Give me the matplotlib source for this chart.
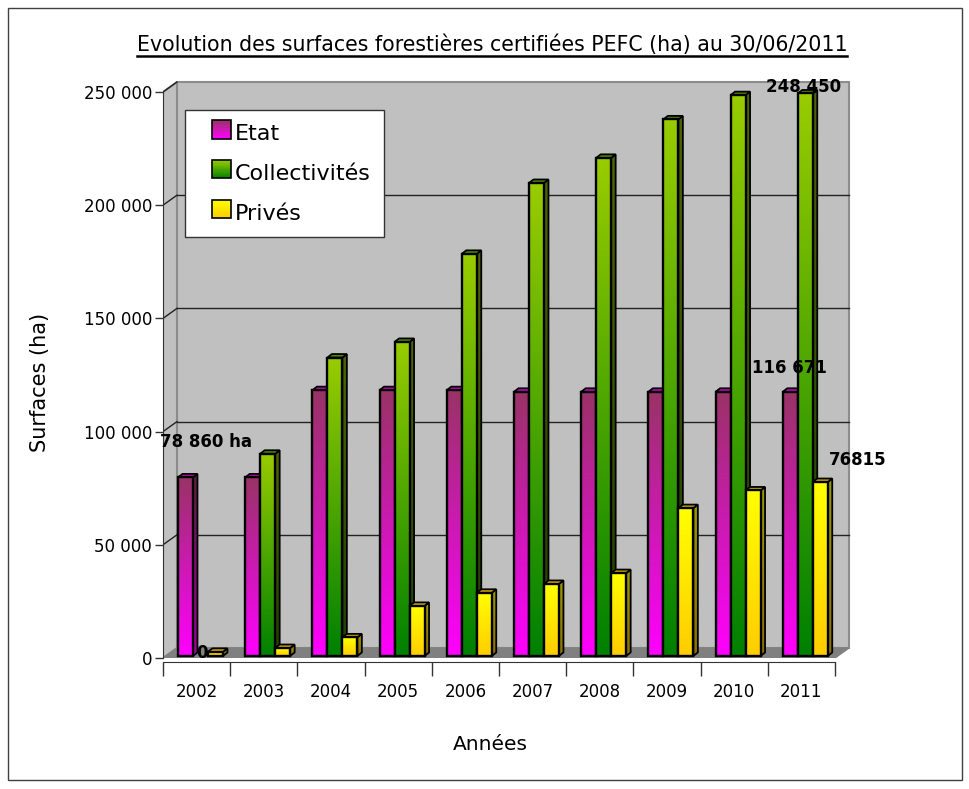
import numpy as np
import matplotlib
matplotlib.use('Agg')
import matplotlib.pyplot as plt
from matplotlib.patches import Polygon, Rectangle, Patch
from matplotlib.lines import Line2D
from matplotlib.colors import to_rgb

# ---------------- data ----------------
years = ['2002', '2003', '2004', '2005', '2006', '2007', '2008', '2009', '2010', '2011']
etat = [78860, 78860, 117400, 117400, 117400, 116671, 116671, 116671, 116671, 116671]
collectivites = [0, 89300, 131800, 138700, 177600, 208900, 220000, 237000, 247700, 248450]
prives = [1800, 3500, 8200, 22100, 27900, 31800, 36600, 65300, 73100, 76815]
series_names = ['Etat', 'Collectivités', 'Privés']
yticks = [0, 50000, 100000, 150000, 200000, 250000]
ytick_labels = ['0', '50 000', '100 000', '150 000', '200 000', '250 000']
title = "Evolution des surfaces forestières certifiées PEFC (ha) au 30/06/2011"
xlabel = "Années"
ylabel = "Surfaces (ha)"
# data labels: (text, x in categories, y in value units, ha)
data_labels = [
    ("78 860 ha", -0.045, 95400, 'left'),
    ("0", 0.58, 2200, 'center'),
    ("116 671", 8.765, 128100, 'left'),
    ("248 450", 8.97, 252200, 'left'),
    ("76815", 9.91, 87500, 'left'),
]

# ---------------- geometry / style ----------------
W, H = 969, 789
PX_PER_CAT = 67.2
PX_PER_UNIT = 2.264 / 1000
X0_PX, Y0_PX = 163, 658
XMAX, YMAX = 10.3, 260000
ax_w = XMAX * PX_PER_CAT
ax_h = YMAX * PX_PER_UNIT

DX, DY = 0.208, 4417          # wall depth
BAR_OFF, BAR_W = 0.223, 0.223
BASE = 900
DDX, DDY = 0.067, 1550        # bar depth

styles = [
    dict(front=('#FF00FF', '#993366'), side=('#A000A0', '#5C1F3D'), top='#CC00CC'),
    dict(front=('#008000', '#99CC00'), side=('#1F4000', '#4D6600'), top='#4C8C00'),
    dict(front=('#FFCC00', '#FFFF00'), side=('#8C7000', '#999900'), top='#D4AA00'),
]


def grad(c_bot, c_top, n=128):
    b = np.array(to_rgb(c_bot))
    t = np.array(to_rgb(c_top))
    f = np.linspace(0, 1, n)[:, None]
    return (b * (1 - f) + t * f)[:, None, :]


fig = plt.figure(figsize=(W / 100, H / 100), dpi=100)
ax = fig.add_axes([X0_PX / W, 1 - Y0_PX / H, ax_w / W, ax_h / H])
ax.set_xlim(0, XMAX)
ax.set_ylim(0, YMAX)
ax.set_autoscale_on(False)
ax.patch.set_visible(False)

TOP = yticks[-1]
NC = len(years)
wall_c = '#C0C0C0'
edge_c = '#8C8C8C'

# back wall
ax.add_patch(Polygon([(DX, DY), (NC + DX, DY), (NC + DX, TOP + DY), (DX, TOP + DY)],
                     closed=True, fc=wall_c, ec=edge_c, lw=1.5, zorder=0.5))
# side wall
ax.add_patch(Polygon([(0, 0), (DX, DY), (DX, TOP + DY), (0, TOP)],
                     closed=True, fc=wall_c, ec=edge_c, lw=1.5, zorder=0.5))
# gridlines
for v in yticks[1:-1]:
    ax.add_line(Line2D([DX, NC + DX], [v + DY, v + DY], color='#222222', lw=1.0, zorder=0.8))
for v in yticks[1:]:
    ax.add_line(Line2D([0, DX], [v, v + DY], color='#222222', lw=1.0, zorder=0.8))
# floor
ax.add_patch(Polygon([(0, 0), (NC, 0), (NC + DX, DY), (DX, DY)],
                     closed=True, fc='#808080', ec='#808080', lw=1, zorder=0.9))

# bars
series = [etat, collectivites, prives]
for i in range(NC):
    for k, vals in enumerate(series):
        h = vals[i]
        if h <= 0:
            continue
        st = styles[k]
        z = 2 + (i * 3 + k) * 0.01
        x0 = i + BAR_OFF + k * BAR_W
        x1 = x0 + BAR_W
        y0 = BASE
        y1 = BASE + h
        side = [(x1, y0), (x1 + DDX, y0 + DDY), (x1 + DDX, y1 + DDY), (x1, y1)]
        topf = [(x0, y1), (x1, y1), (x1 + DDX, y1 + DDY), (x0 + DDX, y1 + DDY)]
        im = ax.imshow(grad(*st['side']), extent=(x1, x1 + DDX, y0, y1 + DDY),
                       origin='lower', aspect='auto', interpolation='bilinear', zorder=z)
        im.set_clip_path(Polygon(side, closed=True, transform=ax.transData))
        ax.add_patch(Polygon(side, closed=True, fc='none', ec='black', lw=1.3, zorder=z + 0.001))
        ax.add_patch(Polygon(topf, closed=True, fc=st['top'], ec='black', lw=1.3, zorder=z + 0.002))
        ax.imshow(grad(*st['front']), extent=(x0, x1, y0, y1),
                  origin='lower', aspect='auto', interpolation='bilinear', zorder=z + 0.003)
        ax.add_patch(Rectangle((x0, y0), BAR_W, h, fc='none', ec='black', lw=1.7, zorder=z + 0.004))

ax.set_xlim(0, XMAX)
ax.set_ylim(0, YMAX)

# axes / ticks
for s in ['top', 'right']:
    ax.spines[s].set_visible(False)
ax.spines['left'].set_bounds(0, TOP)
ax.spines['left'].set_color('#333333')
ax.spines['bottom'].set_bounds(0, NC)
ax.spines['bottom'].set_position(('outward', 2.9))
ax.spines['bottom'].set_color('#333333')
ax.set_yticks(yticks)
ax.set_yticklabels(ytick_labels, fontsize=12)
ax.tick_params(axis='y', direction='out', length=5.8, width=1, color='#333333', pad=2)
ax.set_xticks(np.arange(NC + 1))
ax.set_xticklabels([])
ax.tick_params(axis='x', which='major', direction='out', length=10, width=1, color='#333333')
ax.set_xticks(np.arange(NC) + 0.5, minor=True)
ax.set_xticklabels(years, minor=True, fontsize=12)
ax.tick_params(axis='x', which='minor', length=0, pad=15)

ax.set_ylabel(ylabel, fontsize=15)
ax.yaxis.set_label_coords((40 - X0_PX) / ax_w, (Y0_PX - 382) / ax_h)
ax.yaxis.label.set_va('center')
ax.set_xlabel(xlabel, fontsize=14.5)
ax.xaxis.set_label_coords((490 - X0_PX) / ax_w, (Y0_PX - 745) / ax_h)
ax.xaxis.label.set_va('center')

for txt, x, y, ha in data_labels:
    ax.text(x, y, txt, ha=ha, va='center', fontsize=12, fontweight='bold', zorder=10)


# legend with gradient squares
class GradHandler:
    def __init__(self, c_bot, c_top):
        self.c_bot = np.array(to_rgb(c_bot))
        self.c_top = np.array(to_rgb(c_top))

    def legend_artist(self, legend, orig_handle, fontsize, handlebox):
        x0, y0 = handlebox.xdescent, handlebox.ydescent
        w, h = handlebox.width, handlebox.height
        sq = h
        xs = x0 + w - sq
        n = 16
        for j in range(n):
            f = (j + 0.5) / n
            c = self.c_bot * (1 - f) + self.c_top * f
            r = Rectangle((xs, y0 + j * h / n), sq, h / n * 1.05, fc=c, ec='none',
                          transform=handlebox.get_transform())
            handlebox.add_artist(r)
        b = Rectangle((xs, y0), sq, h, fc='none', ec='black', lw=1.2,
                      transform=handlebox.get_transform())
        handlebox.add_artist(b)
        return b


handles = [Patch(label=n) for n in series_names]
hmap = {hd: GradHandler(*styles[k]['front']) for k, hd in enumerate(handles)}
leg = ax.legend(handles=handles, handler_map=hmap, loc='upper left',
                bbox_to_anchor=((185 - X0_PX) / ax_w, (Y0_PX - 110) / ax_h),
                borderaxespad=0, fontsize=16, frameon=True, fancybox=False,
                edgecolor='#333333', framealpha=1, handlelength=1.45, handleheight=0.9,
                handletextpad=0.2, labelspacing=0.85, borderpad=0.6)
leg.get_frame().set_linewidth(1.0)
leg.set_zorder(20)

# title with underline
t = fig.text(492 / W, 1 - 45 / H, title, ha='center', va='center', fontsize=14.8)
fig.canvas.draw()
bb = t.get_window_extent(fig.canvas.get_renderer())
fig.add_artist(Line2D([bb.x0, bb.x1], [bb.y0 - 1, bb.y0 - 1], color='black', lw=1.8,
                      transform=None))

# outer frame
fig.add_artist(Rectangle((8 / W, 1 - 780 / H), (962 - 8) / W, (780 - 8) / H,
                         transform=fig.transFigure, fill=False, ec='#404040', lw=1))

fig.savefig('out.png', dpi=100)
